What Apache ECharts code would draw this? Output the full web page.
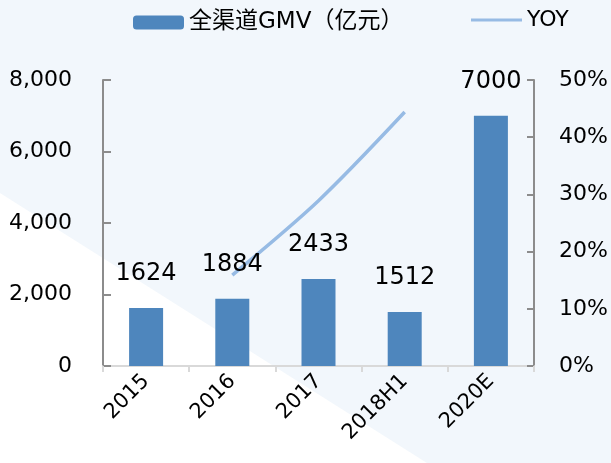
<!DOCTYPE html>
<html>
<head>
<meta charset="utf-8">
<script src="https://cdn.jsdelivr.net/npm/echarts@6/dist/echarts.min.js"></script>
<style>
  html, body { margin: 0; padding: 0; background: #f2f7fc; }
  #chart { width: 611px; height: 463px; }
</style>
</head>
<body>
<div id="chart"></div>
<script>
// 类目与数据
const categories = ['2015', '2016', '2017', '2018H1', '2020E'];
const gmv = [1624, 1884, 2433, 1512, 7000];
const yoy = [null, 15.9, 28.9, 44.4, null];

const FONT = '"DejaVu Sans", "Noto Sans CJK SC", sans-serif';
const LINE_COLOR = '#97bbe4';

const chart = echarts.init(document.getElementById('chart'));

const option = {
  backgroundColor: '#f2f7fc',
  textStyle: { fontFamily: FONT },
  // 左下角白色斜块
  graphic: [{
    type: 'polygon',
    z: -10,
    silent: true,
    shape: { points: [[0, 193], [0, 463], [427, 463]] },
    style: { fill: '#ffffff' }
  }],
  legend: [{
    data: ['全渠道GMV（亿元）'],
    left: 128,
    top: 6,
    itemWidth: 51,
    itemHeight: 14,
    textStyle: { fontSize: 23, color: '#000', fontFamily: FONT, padding: [8, 0, 0, 0] }
  }, {
    data: [{ name: 'YOY', icon: 'rect' }],
    left: 466,
    top: 4,
    itemWidth: 51,
    itemHeight: 3,
    textStyle: { fontSize: 22, color: '#000', fontFamily: FONT }
  }],
  grid: { left: 103, right: 77, top: 80, bottom: 97 },
  xAxis: {
    type: 'category',
    data: categories,
    axisLine: { lineStyle: { color: '#d9d9d9', width: 2 } },
    axisTick: { show: true, length: 6, lineStyle: { color: '#d9d9d9', width: 2 } },
    axisLabel: { rotate: 45, margin: 12, fontSize: 21, color: '#000', fontFamily: FONT }
  },
  yAxis: [{
    type: 'value',
    min: 0,
    max: 8000,
    interval: 2000,
    splitLine: { show: false },
    axisLine: { show: true, lineStyle: { color: '#8c8c8c', width: 2 } },
    axisTick: { show: true, inside: true, length: 8, lineStyle: { color: '#8c8c8c', width: 2 } },
    axisLabel: {
      margin: 31, fontSize: 22, color: '#000', fontFamily: FONT,
      formatter: v => v.toLocaleString('en-US')
    }
  }, {
    type: 'value',
    min: 0,
    max: 50,
    interval: 10,
    position: 'right',
    splitLine: { show: false },
    axisLine: { show: true, lineStyle: { color: '#8c8c8c', width: 2 } },
    axisTick: { show: true, inside: true, length: 7, lineStyle: { color: '#8c8c8c', width: 2 } },
    axisLabel: {
      margin: 25, fontSize: 22, color: '#000', fontFamily: FONT,
      formatter: v => v + '%'
    }
  }],
  series: [{
    name: '全渠道GMV（亿元）',
    type: 'bar',
    data: gmv,
    barWidth: 34,
    itemStyle: { color: '#4e86bd' },
    label: {
      show: true,
      position: 'top',
      distance: 22,
      fontSize: 24,
      color: '#000',
      fontFamily: FONT
    }
  }, {
    name: 'YOY',
    type: 'line',
    yAxisIndex: 1,
    data: yoy,
    smooth: 0.3,
    symbol: 'none',
    z: 1,
    lineStyle: { color: LINE_COLOR, width: 3.5 },
    itemStyle: { color: LINE_COLOR }
  }]
};

chart.setOption(option);
</script>
</body>
</html>
